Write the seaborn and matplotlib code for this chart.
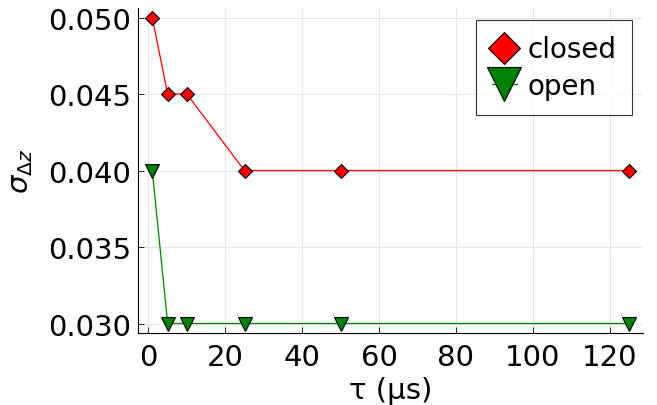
import matplotlib
matplotlib.use("Agg")
import matplotlib.pyplot as plt
import seaborn as sns
import pandas as pd

tau = [1, 5, 10, 25, 50, 125]
closed = [0.050, 0.045, 0.045, 0.040, 0.040, 0.040]
open_ = [0.040, 0.030, 0.030, 0.030, 0.030, 0.030]
xticks = [0, 20, 40, 60, 80, 100, 120]
yticks = [0.030, 0.035, 0.040, 0.045, 0.050]

sns.set_theme(style="white")
plt.rcParams['font.family'] = ['DejaVu Sans']
plt.rcParams['mathtext.fontset'] = 'dejavusans'
plt.rcParams['text.color'] = 'black'
plt.rcParams['axes.labelcolor'] = 'black'

fig = plt.figure(figsize=(6.57, 4.06), dpi=100)
ax = fig.add_axes([0.210, 0.177, 0.769, 0.801])

df = pd.DataFrame({"tau": tau, "closed": closed, "open": open_})
sns.lineplot(data=df, x="tau", y="closed", ax=ax, color="red", lw=0.9,
             marker="D", markersize=7, markeredgecolor="black", markeredgewidth=0.8,
             label="closed")
sns.lineplot(data=df, x="tau", y="open", ax=ax, color="green", lw=0.9,
             marker="v", markersize=10, markeredgecolor="black", markeredgewidth=0.8,
             label="open")

ax.set_xlim(-2.72, 128.72)
ax.set_ylim(0.02937, 0.05063)
ax.set_xticks(xticks)
ax.set_yticks(yticks)
ax.set_yticklabels([f"{v:.3f}" for v in yticks])
ax.tick_params(axis="both", labelsize=21, direction="in", length=4, width=0.6,
               colors="black", bottom=True, left=True, pad=5)
ax.tick_params(axis="x", pad=7)
ax.grid(True, color="#e6e6e6", lw=0.8)
for s in ["top", "right"]:
    ax.spines[s].set_visible(False)
for s in ["left", "bottom"]:
    ax.spines[s].set_color("black")
    ax.spines[s].set_linewidth(0.8)

ax.set_xlabel("τ (μs)", fontsize=21, labelpad=4)
ax.set_ylabel(r"$\sigma_{\Delta z}$", fontsize=21, labelpad=9)

leg = ax.legend(loc="upper right", fontsize=20, frameon=True, fancybox=False,
                markerscale=2.4, handlelength=0.9, handletextpad=0.4,
                borderpad=0.55, labelspacing=0.3, borderaxespad=0,
                bbox_to_anchor=(0.978, 0.963))
leg.get_frame().set_edgecolor("black")
leg.get_frame().set_linewidth(0.8)

fig.savefig("out.png", dpi=100)
